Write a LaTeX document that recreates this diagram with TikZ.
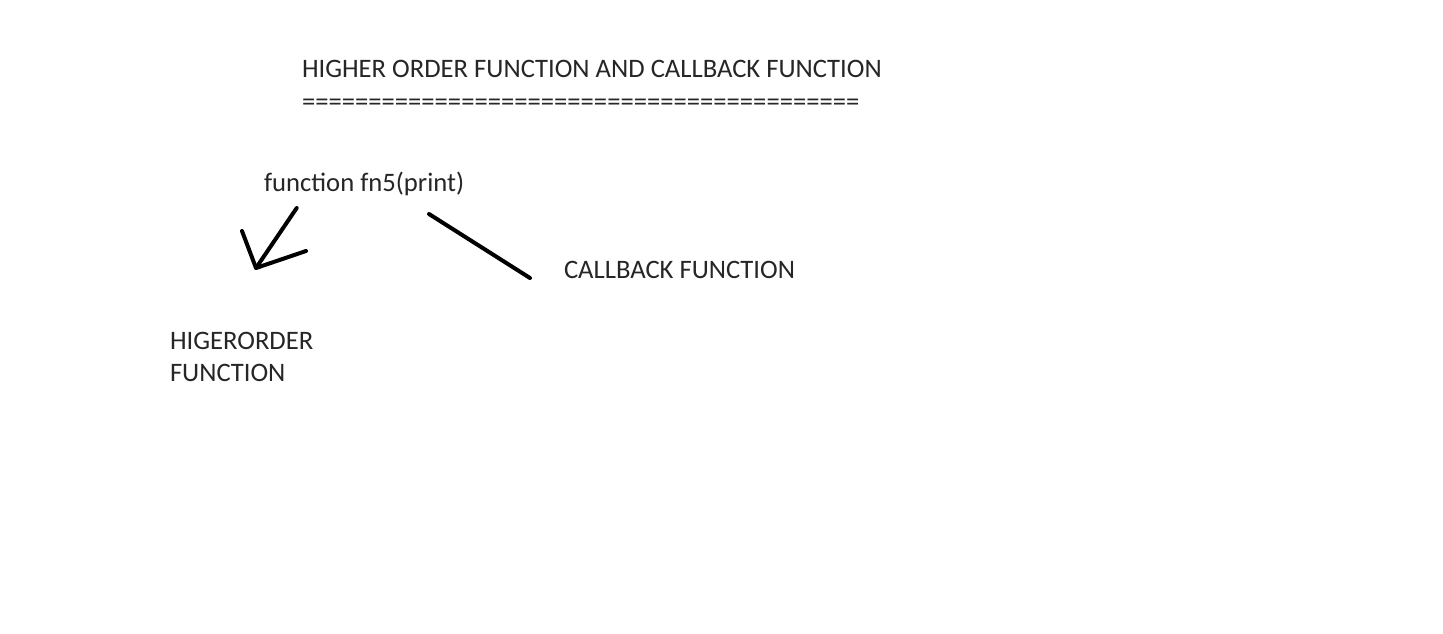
\documentclass[tikz,border=0pt]{standalone}
\usepackage{fontspec}
\setmainfont{Carlito}
\begin{document}
\begin{tikzpicture}[x=1pt,y=-1pt,
  txt/.style={anchor=base west,inner sep=0pt,outer sep=0pt,text=black!85,font=\fontsize{26.65pt}{32pt}\selectfont},
  stroke/.style={line width=4pt,line cap=round,line join=round,black}]
\useasboundingbox[fill=white] (0,0) rectangle (1443,633);
\node[txt] (title) at (302,77) {HIGHER ORDER FUNCTION AND CALLBACK FUNCTION};
\node[txt] (rule) at (302,110) {==========================================};
\node[txt] (fn) at (264,191) {function fn5(print)};
\node[txt] (cb) at (564,278) {CALLBACK FUNCTION};
\node[txt] (ho1) at (170,349) {HIGERORDER};
\node[txt] (ho2) at (170,381) {FUNCTION};
\coordinate (a1) at (296.7,208);
\coordinate (tip) at (256,268);
\coordinate (hl) at (242,231);
\coordinate (hr) at (306,251);
\coordinate (c1) at (429,214);
\coordinate (c2) at (530,278);
\draw[stroke] (a1) -- (tip);
\draw[stroke] (hl) -- (tip) -- (hr);
\draw[stroke] (c1) -- (c2);
\end{tikzpicture}
\end{document}
